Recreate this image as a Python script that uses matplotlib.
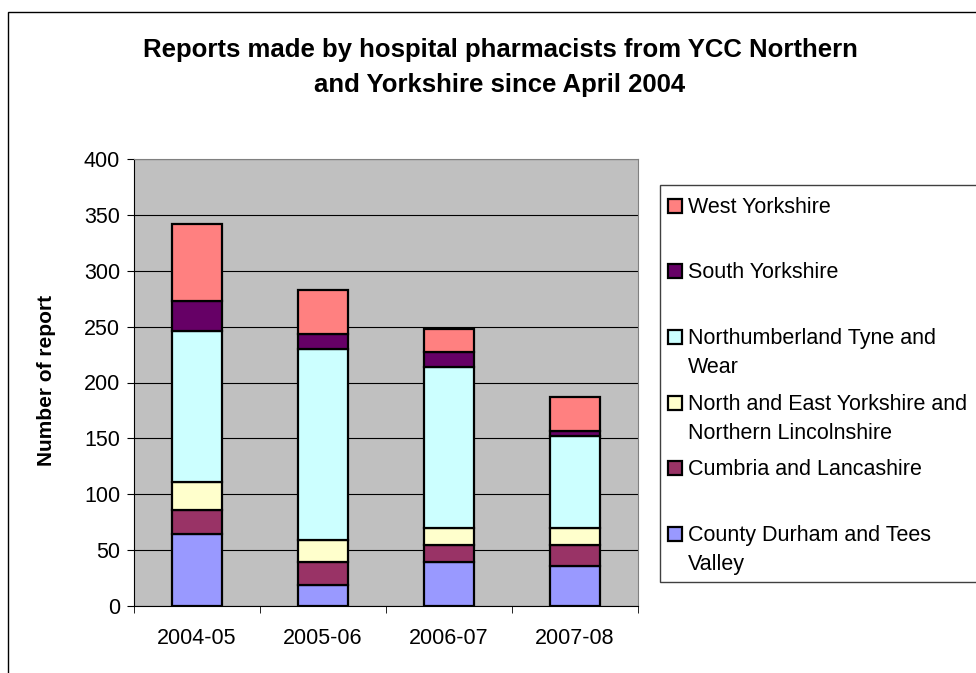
import numpy as np
import matplotlib.pyplot as plt
from matplotlib.patches import Rectangle

plt.rcParams['font.family'] = ['Liberation Sans', 'DejaVu Sans']

years = ['2004-05', '2005-06', '2006-07', '2007-08']
regions = ['County Durham and Tees\nValley', 'Cumbria and Lancashire',
           'North and East Yorkshire and\nNorthern Lincolnshire',
           'Northumberland Tyne and\nWear', 'South Yorkshire', 'West Yorkshire']
durham = [64, 19, 39, 36]
cumbria = [22, 20, 16, 19]
north_east = [25, 20, 15, 15]
northumberland = [135, 171, 144, 82]
south = [27, 13, 13, 5]
west = [69, 40, 21, 30]
colours = ['#9999FF', '#993366', '#FFFFCC', '#CCFFFF', '#660066', '#FF8080']

series = [durham, cumbria, north_east, northumberland, south, west]

W, H = 976, 673
fig = plt.figure(figsize=(W / 100, H / 100), dpi=100)

# outer chart border (right and bottom edges fall outside the picture)
fig.patches.append(Rectangle((8 / W, -0.1), 1.2, (H - 12) / H + 0.1, transform=fig.transFigure,
                             fill=False, edgecolor='black', linewidth=1))

ax = fig.add_axes([134 / W, 1 - 606 / H, (638 - 134) / W, (606 - 159) / H])
ax.set_facecolor('#C0C0C0')
x = np.arange(len(years))
bottom = np.zeros(len(years))
for vals, c in zip(series, colours):
    ax.bar(x, vals, 0.4, bottom=bottom, color=c, edgecolor='black', linewidth=1.6, zorder=3)
    bottom += np.array(vals)

ax.set_xlim(-0.5, 3.5)
ax.set_ylim(0, 400)
ax.set_yticks(range(0, 401, 50))
ax.yaxis.grid(True, color='black', linewidth=0.8, zorder=1)
ax.set_axisbelow(True)
ax.set_xticks(x)
ax.set_xticklabels(years, fontsize=15.5)
ax.tick_params(axis='x', length=0, pad=16)
ax.set_xticks(np.arange(-0.5, 4, 1), minor=True)
ax.tick_params(axis='x', which='minor', length=5, direction='out')
ax.tick_params(axis='y', labelsize=15.5, length=5, direction='out', pad=5)
for s in ['top', 'right']:
    ax.spines[s].set_color('#808080')
ax.spines['left'].set_color('black')
ax.spines['bottom'].set_color('black')

fig.text(47 / W, 1 - 380 / H, 'Number of report', rotation=90, fontsize=15,
         fontweight='bold', ha='center', va='center')

fig.text(500 / W, 1 - 57 / H, 'Reports made by hospital pharmacists from YCC Northern',
         fontsize=18.5, fontweight='bold', ha='center', va='baseline')
fig.text(500 / W, 1 - 92 / H, 'and Yorkshire since April 2004',
         fontsize=18.5, fontweight='bold', ha='center', va='baseline')

# legend box, drawn by hand so the entries sit like the original
fig.patches.append(Rectangle((660 / W, 1 - 582 / H), 330 / W, (582 - 185) / H,
                             transform=fig.transFigure, facecolor='white',
                             edgecolor='#404040', linewidth=1))
ys = [205, 270, 336, 402, 467, 533]
for yy, name, c in zip(ys, regions[::-1], colours[::-1]):
    fig.patches.append(Rectangle((668 / W, 1 - (yy + 8) / H), 14 / W, 14 / H,
                                 transform=fig.transFigure, facecolor=c,
                                 edgecolor='black', linewidth=1.6))
    fig.text(688 / W, 1 - (yy - 8) / H, name, fontsize=15.5, ha='left', va='top',
             linespacing=1.5)

fig.savefig('out.png', dpi=100)
